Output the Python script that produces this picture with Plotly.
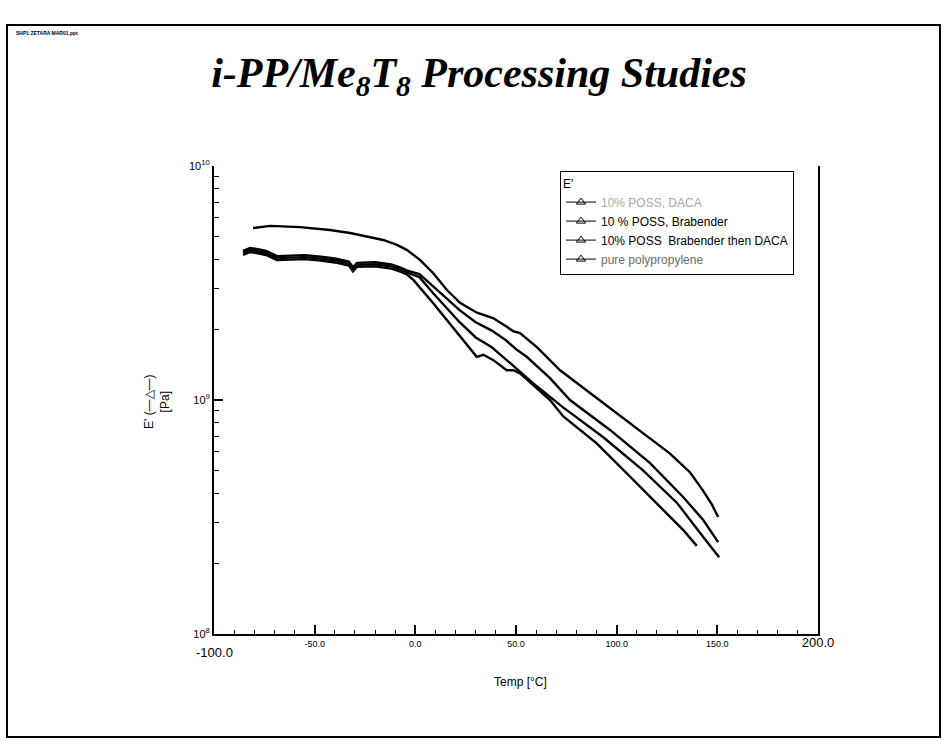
import plotly.graph_objects as go

# ---------------- data ----------------
# Curve A (uppermost)
tA = [-80.6, -72.2, -57.3, -42.4, -32.4, -22.5, -16.0, -9.1, -4.1, 2.3, 8.8, 15.7, 22.2,
      30.6, 38.6, 45.6, 48.5, 52.0, 60.5, 71.9, 86.8, 100.2, 113.1, 126.5, 136.5, 142.9, 147.4, 150.4]
eA = [5.43e9, 5.55e9, 5.48e9, 5.33e9, 5.17e9, 4.98e9, 4.83e9, 4.6e9, 4.37e9, 3.97e9, 3.49e9, 2.95e9, 2.60e9,
      2.36e9, 2.24e9, 2.05e9, 1.97e9, 1.93e9, 1.68e9, 1.34e9, 1.07e9, 8.8e8, 7.2e8, 5.9e8, 4.9e8, 4.1e8, 3.56e8, 3.16e8]

# Shared low-temperature part of the three lower curves
tL = [-85.6, -82.0, -77.0, -73.8, -68.8, -62.0, -55.0, -47.0, -40.0, -33.0, -31.0, -29.0, -20.0, -12.0, -7.0, -4.0]
eL = [4.25e9, 4.38e9, 4.30e9, 4.24e9, 4.04e9, 4.06e9, 4.08e9, 4.02e9, 3.95e9, 3.83e9, 3.62e9, 3.78e9, 3.80e9, 3.72e9, 3.60e9, 3.50e9]

# Curve B
tB = tL + [2.0, 9.0, 16.0, 22.0, 30.0, 38.0, 45.0, 50.0, 55.3, 66.9, 76.8, 96.7, 116.6, 133.0, 143.0, 150.4]
eB = [v * 1.02 for v in eL] + [3.45e9, 3.05e9, 2.70e9, 2.42e9, 2.15e9, 1.98e9, 1.80e9, 1.65e9, 1.53e9,
                               1.24e9, 1.0e9, 7.45e8, 5.37e8, 3.85e8, 3.07e8, 2.47e8]

# Curve C
tC = tL + [2.0, 9.0, 16.0, 22.0, 30.0, 38.0, 47.0, 60.0, 73.4, 93.2, 113.1, 130.0, 143.0, 150.9]
eC = [v * 1.0 for v in eL] + [3.35e9, 2.85e9, 2.45e9, 2.15e9, 1.85e9, 1.68e9, 1.44e9, 1.15e9,
                              9.3e8, 6.95e8, 5.0e8, 3.63e8, 2.6e8, 2.13e8]

# Curve D (lowest)
tD = tL + [-1.0, 8.9, 15.6, 22.2, 30.5, 33.8, 38.8, 45.4, 48.7, 52.0, 58.6, 66.9, 73.5, 90.1, 106.7, 119.9, 133.1, 139.8]
eD = [v * 0.98 for v in eL] + [3.26e9, 2.59e9, 2.20e9, 1.87e9, 1.53e9, 1.56e9, 1.48e9, 1.34e9, 1.34e9, 1.30e9,
                               1.16e9, 1.0e9, 8.5e8, 6.53e8, 4.7e8, 3.62e8, 2.78e8, 2.38e8]

names = ["<span style='color:#a8a8a8'>10% POSS, DACA</span>",
         "10 % POSS, Brabender",
         "10% POSS  Brabender then DACA",
         "<span style='color:#6a6a6a'>pure polypropylene</span>"]

x_tickvals = [-100, -50, 0, 50, 100, 150, 200]
x_ticktext = ["", "-50.0", "0.0", "50.0", "100.0", "150.0",
              "<span style='font-size:13px'>200.0</span>"]
x_first_label = "-100.0"
y_tickvals = [1e8, 1e9, 1e10]
y_ticktext = ["10<sup>8</sup>", "10<sup>9</sup>", "10<sup>10</sup>"]
y_minor = [m * 10 ** k for k in (8, 9) for m in range(2, 10)]

fig = go.Figure()
curves = [(tA, eA), (tB, eB), (tC, eC), (tD, eD)]
for (t, e) in curves:
    fig.add_trace(go.Scatter(x=t, y=e, mode="lines", line=dict(color="black", width=2.4),
                             showlegend=False, hoverinfo="skip"))
for nm in names:
    fig.add_trace(go.Scatter(x=[None], y=[None], mode="lines+markers", name=nm,
                             line=dict(color="black", width=1),
                             marker=dict(symbol="triangle-up-open", size=8, color="black")))

L, R, T, B = 214, 818, 166, 634
W, H = 947, 741
pw, ph = R - L, B - T

def px(xp):
    return (xp - L) / pw

def py(yp):
    return (B - yp) / ph

fig.update_layout(
    width=W, height=H,
    margin=dict(l=L, r=W - R, t=T, b=H - B, pad=0),
    paper_bgcolor="white", plot_bgcolor="white",
    font=dict(family="Liberation Sans", color="black", size=9),
    title=dict(text="<b><i>i-PP/Me<sub>8</sub>T<sub>8</sub> Processing Studies</i></b>",
               font=dict(family="Liberation Serif", size=42, color="black"),
               x=479 / W, xref="container", xanchor="center",
               y=1 - 72 / H, yref="container", yanchor="middle"),
    legend=dict(x=px(560), y=py(171), xanchor="left", yanchor="top",
                bordercolor="black", borderwidth=1, bgcolor="white",
                font=dict(family="Liberation Sans", size=12, color="black"),
                title=dict(text="E'", font=dict(size=12)),
                itemwidth=30, tracegroupgap=0),
    xaxis=dict(range=[-100, 200], showgrid=False, zeroline=False,
               showline=True, linecolor="black", linewidth=2, mirror=False,
               tickmode="array", tickvals=x_tickvals, ticktext=x_ticktext,
               ticks="inside", ticklen=9, tickwidth=1.5, tickcolor="black",
               tickfont=dict(family="Liberation Sans", size=9),
               minor=dict(tickmode="linear", tick0=-100, dtick=10, ticks="inside",
                          ticklen=4, tickwidth=1, tickcolor="black", showgrid=False)),
    yaxis=dict(type="log", range=[8, 10], showgrid=False, zeroline=False,
               showline=True, linecolor="black", linewidth=2, mirror=True,
               tickmode="array", tickvals=y_tickvals, ticktext=y_ticktext,
               ticks="inside", ticklen=9, tickwidth=1.5, tickcolor="black",
               tickfont=dict(family="Liberation Sans", size=11),
               minor=dict(tickmode="array", tickvals=y_minor, ticks="inside",
                          ticklen=5, tickwidth=1, tickcolor="black", showgrid=False)),
)

# first x tick label sits lower than the others in the original
fig.add_annotation(text=x_first_label, x=x_tickvals[0], y=py(652), xref="x", yref="paper",
                   showarrow=False, font=dict(family="Liberation Sans", size=13),
                   xanchor="center", yanchor="middle")
fig.add_annotation(text="Temp [°C]", x=px(520), y=py(682), xref="paper", yref="paper",
                   showarrow=False, font=dict(family="Liberation Sans", size=12),
                   xanchor="center", yanchor="middle")
fig.add_annotation(text="E' (—△—)<br>[Pa]", x=px(157), y=py(402), xref="paper", yref="paper",
                   showarrow=False, textangle=-90, font=dict(family="Liberation Sans", size=12),
                   xanchor="center", yanchor="middle")
fig.add_annotation(text="<b>SHP1 ZETARA MAR01.ppt</b>", x=px(14), y=py(33), xref="paper", yref="paper",
                   showarrow=False, font=dict(family="Liberation Sans", size=5),
                   xanchor="left", yanchor="middle")

# slide frame
fig.add_shape(type="rect", xref="paper", yref="paper",
              x0=px(7), x1=px(940), y0=py(737), y1=py(25),
              line=dict(color="black", width=2), layer="above")

fig.write_html("out.html", post_script="document.body.style.margin='0';",
               config={"displayModeBar": False})
